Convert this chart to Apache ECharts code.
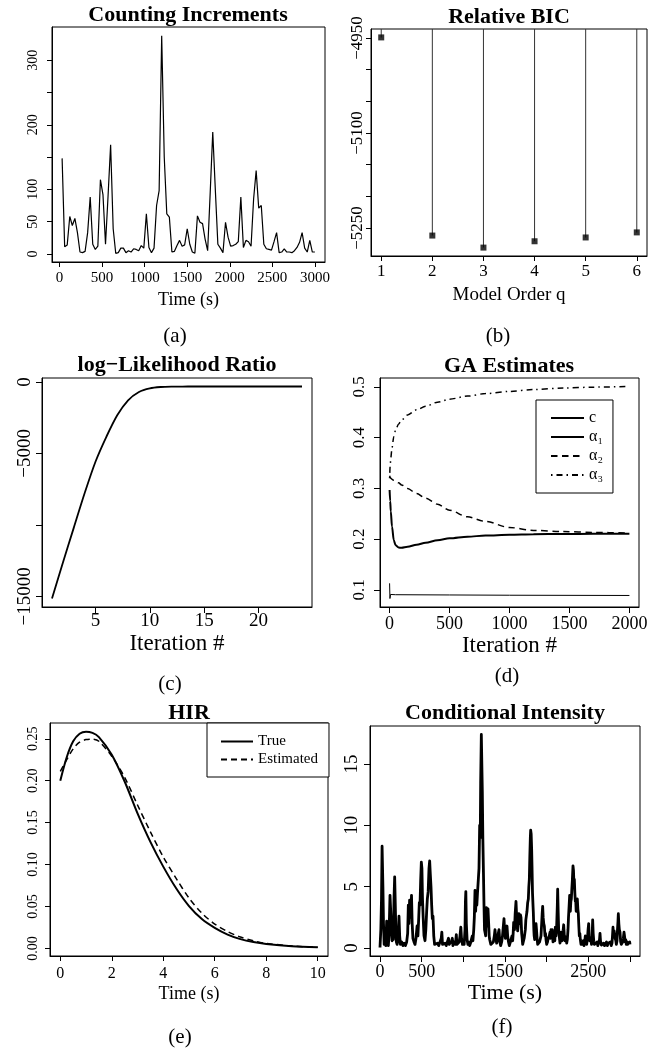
<!DOCTYPE html>
<html><head><meta charset="utf-8">
<script src="https://cdn.jsdelivr.net/npm/echarts@6/dist/echarts.min.js"></script>
<style>html,body{margin:0;padding:0;background:#fff}#c{width:667px;height:1049px}</style>
</head><body><div id="c"></div>
<script>
// ---------- (a) Counting Increments ----------
const countTime = [30,60,90,120,150,180,210,240,270,300,330,360,390,420,450,480,510,540,570,600,
630,660,690,720,750,780,810,840,870,900,930,960,990,1020,1050,1080,1110,1140,1170,1200,
1230,1260,1290,1320,1350,1380,1410,1440,1470,1500,1530,1560,1590,1620,1650,1680,1710,1740,1770,1800,
1830,1860,1890,1920,1950,1980,2010,2040,2070,2100,2130,2160,2190,2220,2250,2280,2310,2340,2370,2400,
2430,2460,2490,2520,2550,2580,2610,2640,2670,2700,2730,2760,2790,2820,2850,2880,2910,2940,2970,3000];
const countValue = [148,11,14,58,44,55,33,3,2,4,
33,88,15,7,12,115,92,15,90,169,
39,1,2,9,9,2,5,3,8,7,
5,13,9,62,10,2,9,75,98,338,
150,62,57,3,4,13,21,12,14,39,
15,3,1,59,49,47,23,5,95,189,
100,15,9,2,49,26,12,13,15,19,
88,10,21,19,12,85,129,71,75,15,
8,7,6,19,33,2,3,8,3,3,
2,5,10,18,33,9,3,21,3,3];
const countXTicks = [0,500,1000,1500,2000,2500,3000];
const countYTicks = [0,50,100,150,200,250,300];
const countYLabels = [0,50,100,200,300];

// ---------- (b) Relative BIC ----------
const bicOrder = [1,2,3,4,5,6];
const bicValue = [-4949,-5262,-5281,-5271,-5265,-5257];
const bicYTicks = [-5250,-5200,-5150,-5100,-5050,-5000,-4950];
const bicYLabels = [-5250,-5100,-4950];

// ---------- (c) log-Likelihood Ratio ----------
const llrIter = [1,2,3,4,5,6,7,8,9,10,11,12,13,14,15,16,17,18,19,20,21,22,23,24];
const llrValue = [-15154,-12651,-10209,-7790,-5581,-3837,-2326,-1279,-698,-442,-349,-322,-318,-316,-315,-315,-315,-314,-314,-314,-314,-314,-314,-314];
const llrXTicks = [5,10,15,20];
const llrYTicks = [-15000,-10000,-5000,0];
const llrYLabels = [-15000,-5000,0];

// ---------- (d) GA Estimates ----------
const gaIter   = [0,5,10,20,35,50,75,100,150,225,300,400,500,650,800,1000,1200,1450,1700,2000];
const gaAlpha1 = [0.297,0.275,0.255,0.225,0.198,0.188,0.1835,0.183,0.185,0.189,0.193,0.198,0.2016,0.205,0.207,0.2087,0.2097,0.2102,0.2106,0.2109];
const gaAlpha2 = [0.325,0.322,0.320,0.318,0.316,0.314,0.311,0.307,0.300,0.290,0.281,0.269,0.257,0.244,0.235,0.223,0.2173,0.215,0.2132,0.2122];
const gaAlpha3 = [0.320,0.345,0.360,0.380,0.402,0.415,0.427,0.435,0.445,0.455,0.462,0.470,0.476,0.482,0.487,0.4913,0.495,0.498,0.4997,0.501];
const gaCIter  = [0,3,8,50,500,1000,2000];
const gaC      = [0.113,0.083,0.091,0.0905,0.0900,0.0895,0.0890];
const gaXTicks = [0,500,1000,1500,2000];
const gaYTicks = [0.1,0.2,0.3,0.4,0.5];

// ---------- (e) HIR ----------
const hirTime = [0,0.25,0.5,0.75,1,1.25,1.5,2,2.5,3,3.5,4,4.5,5,5.5,6,6.5,7,7.5,8,9,10];
const hirTrue = [0.200,0.228,0.247,0.256,0.2585,0.257,0.252,0.231,0.199,0.161,0.127,0.0975,0.0717,0.0505,0.035,0.0245,0.0165,0.0110,0.0075,0.0052,0.0025,0.0012];
const hirEst  = [0.211,0.225,0.238,0.246,0.249,0.2495,0.247,0.229,0.204,0.171,0.139,0.109,0.0836,0.060,0.042,0.029,0.020,0.0135,0.009,0.006,0.0028,0.0013];
const hirXTicks = [0,2,4,6,8,10];
const hirYTicks = [0,0.05,0.1,0.15,0.2,0.25];

// ---------- (f) Conditional Intensity : [time (s), intensity] ----------
const intensity = [[0,0.05],[10,1.5],[18,4.0],[25,8.3],[30,8.2],[35,5.0],[42,2.0],[50,0.3],[60,1.3],[70,0.2],[80,2.2],[90,0.5],[100,0.2],[108,1.0],[120,4.3],[128,4.4],[135,2.0],[145,0.6],[150,1.8],[160,0.7],[168,4.0],[176,5.8],[182,4.0],[190,1.5],[196,0.5],[205,0.3],[215,0.6],[228,2.6],[236,1.0],[245,0.3],[260,0.5],[275,0.2],[290,0.4],[305,0.2],[320,0.5],[332,1.2],[340,3.5],[348,2.0],[355,3.9],[362,4.0],[370,2.5],[378,4.3],[386,2.0],[395,0.8],[408,0.5],[420,0.3],[432,0.8],[445,1.8],[455,1.0],[465,2.5],[472,3.7],[480,3.5],[488,5.5],[496,7.0],[503,6.5],[510,4.0],[518,2.5],[528,1.0],[540,0.6],[550,1.5],[560,3.0],[568,4.0],[578,4.6],[588,6.5],[596,7.1],[604,6.0],[612,5.0],[620,3.5],[628,2.4],[636,2.6],[645,1.0],[655,0.3],[670,0.2],[690,0.4],[705,0.2],[720,0.3],[735,0.8],[742,1.3],[750,0.3],[765,0.2],[780,0.4],[795,0.2],[810,0.3],[822,0.8],[830,0.3],[845,0.2],[860,0.6],[868,0.8],[875,0.2],[890,0.5],[905,0.3],[916,1.1],[922,0.3],[935,0.2],[950,0.5],[960,1.0],[970,1.7],[978,0.8],[990,0.3],[1000,0.5],[1010,0.3],[1020,1.5],[1025,3.8],[1030,4.6],[1036,2.0],[1045,0.7],[1055,0.3],[1065,0.5],[1076,0.2],[1090,0.5],[1100,0.8],[1108,1.0],[1115,0.6],[1125,1.5],[1132,2.5],[1140,4.7],[1148,3.0],[1155,4.6],[1162,3.5],[1170,4.5],[1180,5.6],[1188,6.5],[1196,10.0],[1203,9.0],[1208,13.5],[1216,17.4],[1222,15.0],[1228,12.7],[1234,9.0],[1240,6.7],[1248,3.5],[1254,1.5],[1260,1.3],[1268,1.0],[1276,3.3],[1283,2.0],[1290,1.8],[1296,3.2],[1304,2.0],[1310,1.0],[1316,0.7],[1330,0.3],[1348,0.2],[1360,0.5],[1372,1.0],[1380,1.5],[1390,0.8],[1400,0.4],[1412,0.8],[1420,1.2],[1428,1.5],[1438,0.5],[1448,0.2],[1460,0.5],[1470,1.0],[1480,1.8],[1488,2.4],[1495,1.5],[1505,0.8],[1515,1.5],[1524,1.8],[1532,1.0],[1542,0.5],[1552,0.2],[1565,0.5],[1576,0.8],[1584,1.0],[1592,0.6],[1598,1.2],[1604,2.1],[1614,1.5],[1622,2.8],[1632,3.8],[1640,2.5],[1646,1.8],[1652,1.4],[1660,2.0],[1666,2.8],[1672,2.9],[1680,2.0],[1686,2.7],[1692,2.5],[1700,1.2],[1706,0.8],[1712,0.3],[1722,0.4],[1730,0.8],[1736,0.7],[1744,1.5],[1750,2.3],[1756,2.6],[1764,3.0],[1772,3.7],[1780,4.0],[1786,5.0],[1792,5.6],[1798,7.5],[1804,9.0],[1808,9.6],[1814,9.3],[1820,8.0],[1824,6.7],[1830,4.5],[1836,3.5],[1840,2.9],[1846,1.5],[1850,1.0],[1856,0.7],[1864,1.3],[1872,2.0],[1878,1.5],[1885,0.8],[1892,0.3],[1905,0.2],[1915,0.5],[1924,0.5],[1932,1.0],[1940,2.0],[1946,2.8],[1952,3.4],[1958,2.5],[1965,2.0],[1972,1.8],[1980,1.0],[1986,1.2],[1992,0.7],[2000,0.3],[2010,0.5],[2018,0.8],[2024,0.7],[2032,1.0],[2040,1.3],[2046,0.8],[2052,1.5],[2060,1.0],[2068,1.5],[2076,0.5],[2085,0.8],[2092,1.2],[2098,0.6],[2104,1.7],[2112,1.0],[2120,1.8],[2128,3.5],[2132,4.8],[2138,3.0],[2144,1.5],[2152,0.9],[2160,0.4],[2168,0.8],[2176,1.3],[2184,0.6],[2190,1.0],[2197,1.4],[2204,1.9],[2212,1.0],[2218,0.6],[2224,0.5],[2232,0.9],[2240,0.4],[2248,0.7],[2256,1.5],[2262,2.5],[2270,3.5],[2276,4.3],[2284,3.0],[2290,3.8],[2296,4.0],[2302,4.8],[2308,5.5],[2316,6.7],[2322,6.3],[2328,5.0],[2332,5.6],[2338,4.5],[2344,3.8],[2348,4.0],[2354,3.0],[2360,3.5],[2368,4.0],[2374,3.2],[2380,2.8],[2384,2.1],[2392,1.0],[2398,1.2],[2404,0.7],[2412,0.3],[2420,0.5],[2432,0.3],[2440,0.6],[2448,0.2],[2456,0.5],[2464,1.0],[2470,0.5],[2480,0.3],[2490,0.8],[2497,1.5],[2504,2.0],[2510,1.0],[2518,0.6],[2524,0.5],[2530,0.8],[2538,0.3],[2546,1.0],[2552,2.3],[2558,1.2],[2566,0.5],[2572,0.3],[2585,0.2],[2595,0.4],[2604,0.5],[2614,0.2],[2625,0.3],[2634,0.7],[2640,1.2],[2646,0.6],[2656,0.25],[2670,0.2],[2684,0.4],[2695,0.2],[2706,0.3],[2718,0.5],[2728,0.2],[2740,0.4],[2752,0.3],[2765,0.5],[2775,0.2],[2784,0.4],[2790,1.0],[2796,1.7],[2802,1.0],[2810,1.4],[2816,1.5],[2822,0.8],[2830,0.6],[2836,0.3],[2844,0.6],[2850,1.5],[2856,2.2],[2860,2.8],[2866,2.0],[2872,1.5],[2880,1.3],[2888,0.5],[2896,0.3],[2904,0.25],[2912,0.5],[2920,0.8],[2928,1.3],[2934,1.0],[2942,0.5],[2948,0.7],[2955,0.3],[2964,0.5],[2972,0.3],[2980,0.2],[2990,0.4],[2996,0.5],[3000,0.3]];
const ciXTicks = [0,500,1000,1500,2000,2500,3000];
const ciXLabels = [0,500,1500,2500];
const ciYTicks = [0,5,10,15];

// ---------- helpers ----------
const FONT = '"Liberation Serif", "Times New Roman", serif';
function rng(vals){ const mn = Math.min(...vals), mx = Math.max(...vals), d = (mx - mn) * 0.04; return [mn - d, mx + d]; }
function zip(xs, ys){ return xs.map((x, i) => [x, ys[i]]); }
const minusFmt = v => String(v).replace('-', '\u2212');

function axis(o){
  const isY = o.dim === 'y';
  const a = {
    type: 'value', gridIndex: o.grid, min: o.range[0], max: o.range[1],
    axisLine: {show: true, onZero: false, lineStyle: {color: '#000', width: 1}},
    axisTick: {show: true, inside: false, length: o.tickLen || 5, customValues: o.ticks, lineStyle: {color: '#000', width: 1}},
    axisLabel: {show: true, customValues: o.labels || o.ticks, formatter: o.fmt || minusFmt,
      fontFamily: FONT, fontSize: o.labelSize, color: '#000', margin: o.margin, rotate: isY ? 90 : 0},
    splitLine: {show: false}
  };
  if (o.name) {
    a.name = o.name; a.nameLocation = 'middle'; a.nameGap = o.nameGap;
    a.nameTextStyle = {fontFamily: FONT, fontSize: o.nameSize, color: '#000'};
  }
  return a;
}
function grid(l, t, w, h){ return {left: l, top: t, width: w, height: h, show: true, borderColor: '#000', borderWidth: 1, backgroundColor: 'transparent', containLabel: false, outerBoundsMode: 'none'}; }
function txt(text, x, y, size, bold){
  return {text: text, left: x, top: y, textAlign: 'center', textVerticalAlign: 'middle', padding: 0,
    textStyle: {fontFamily: FONT, fontSize: size, fontWeight: bold ? 'bold' : 'normal', color: '#000'}};
}

const gaAll = gaAlpha1.concat(gaAlpha2, gaAlpha3, gaC);
const hirAll = hirTrue.concat(hirEst);

const chart = echarts.init(document.getElementById('c'));
chart.setOption({
  animation: false,
  backgroundColor: '#fff',
  title: [
    txt('Counting Increments', 188, 15, 22, true),
    txt('Relative BIC', 509, 17, 22, true),
    txt('log\u2212Likelihood Ratio', 177, 365, 22, true),
    txt('GA Estimates', 509, 366, 22, true),
    txt('HIR', 189, 713, 22, true),
    txt('Conditional Intensity', 505, 713, 22, true),
    txt('(a)', 175, 336, 21, false),
    txt('(b)', 498, 336, 21, false),
    txt('(c)', 170, 684, 21, false),
    txt('(d)', 507, 676, 21, false),
    txt('(e)', 180, 1037, 21, false),
    txt('(f)', 502, 1027, 21, false)
  ],
  legend: [
    {data: ['c', '\u03b1\u2081', '\u03b1\u2082', '\u03b1\u2083'], orient: 'vertical', left: 536, top: 400,
     padding: [10, 10, 10, 14], itemWidth: 33, itemHeight: 10, itemGap: 3, borderColor: '#000', borderWidth: 1,
     itemStyle: {opacity: 0, borderWidth: 0},
     backgroundColor: '#fff', textStyle: {fontFamily: FONT, fontSize: 16, color: '#000'}, selectedMode: false},
    {data: ['True', 'Estimated'], orient: 'vertical', left: 207, top: 723,
     padding: [11, 11, 10, 13], itemWidth: 32, itemHeight: 10, itemGap: 3, borderColor: '#000', borderWidth: 1,
     itemStyle: {opacity: 0, borderWidth: 0},
     backgroundColor: '#fff', textStyle: {fontFamily: FONT, fontSize: 15, color: '#000'}, selectedMode: false}
  ],
  grid: [
    grid(52, 27, 273, 235),
    grid(371, 29, 276, 227),
    grid(42, 378, 270, 229),
    grid(380, 378, 259, 229),
    grid(50, 723, 278, 233),
    grid(370, 726, 270, 230)
  ],
  xAxis: [
    axis({dim: 'x', grid: 0, range: rng(countTime), ticks: countXTicks, labelSize: 15, margin: 9, name: 'Time (s)', nameSize: 18, nameGap: 29}),
    axis({dim: 'x', grid: 1, range: rng(bicOrder), ticks: bicOrder, labelSize: 17, margin: 7, name: 'Model Order q', nameSize: 19, nameGap: 30}),
    axis({dim: 'x', grid: 2, range: rng(llrIter), ticks: llrXTicks, labelSize: 19, margin: 5, tickLen: 6, name: 'Iteration #', nameSize: 23, nameGap: 25}),
    axis({dim: 'x', grid: 3, range: rng(gaIter), ticks: gaXTicks, labelSize: 18, margin: 8, tickLen: 6, name: 'Iteration #', nameSize: 23, nameGap: 27}),
    axis({dim: 'x', grid: 4, range: rng(hirTime), ticks: hirXTicks, labelSize: 16, margin: 10, name: 'Time (s)', nameSize: 18, nameGap: 29}),
    axis({dim: 'x', grid: 5, range: rng(intensity.map(p => p[0])), ticks: ciXTicks, labels: ciXLabels, labelSize: 18, margin: 7, tickLen: 6, name: 'Time (s)', nameSize: 22, nameGap: 22})
  ],
  yAxis: [
    axis({dim: 'y', grid: 0, range: rng(countValue), ticks: countYTicks, labels: countYLabels, labelSize: 14, margin: 12}),
    axis({dim: 'y', grid: 1, range: rng(bicValue), ticks: bicYTicks, labels: bicYLabels, labelSize: 17, margin: 5}),
    axis({dim: 'y', grid: 2, range: rng(llrValue), ticks: llrYTicks, labels: llrYLabels, labelSize: 19, margin: 7, tickLen: 6}),
    axis({dim: 'y', grid: 3, range: rng(gaAll), ticks: gaYTicks, labelSize: 17, margin: 12, tickLen: 6, fmt: v => v.toFixed(1)}),
    axis({dim: 'y', grid: 4, range: rng(hirAll), ticks: hirYTicks, labelSize: 14, margin: 10, fmt: v => v.toFixed(2)}),
    axis({dim: 'y', grid: 5, range: rng(intensity.map(p => p[1])), ticks: ciYTicks, labelSize: 19, margin: 8, tickLen: 6})
  ],
  series: [
    {name: 'counts', type: 'line', xAxisIndex: 0, yAxisIndex: 0, data: zip(countTime, countValue), symbol: 'none',
     lineStyle: {color: '#000', width: 1.2}},
    {name: 'bicStem', type: 'bar', xAxisIndex: 1, yAxisIndex: 1, data: zip(bicOrder, bicValue), barWidth: 1,
     itemStyle: {color: '#333'}, clip: true},
    {name: 'bic', type: 'scatter', xAxisIndex: 1, yAxisIndex: 1, data: zip(bicOrder, bicValue), symbol: 'rect', symbolSize: 6,
     itemStyle: {color: '#000'}},
    {name: 'llr', type: 'line', xAxisIndex: 2, yAxisIndex: 2, data: zip(llrIter, llrValue), symbol: 'none', smooth: 0.3,
     lineStyle: {color: '#000', width: 1.8}},
    {name: 'c', type: 'line', xAxisIndex: 3, yAxisIndex: 3, data: zip(gaCIter, gaC), symbol: 'none',
     lineStyle: {color: '#000', width: 1}, itemStyle: {color: '#000'}},
    {name: '\u03b1\u2081', type: 'line', xAxisIndex: 3, yAxisIndex: 3, data: zip(gaIter, gaAlpha1), symbol: 'none', smooth: 0.3, smoothMonotone: 'x',
     lineStyle: {color: '#000', width: 2}, itemStyle: {color: '#000'}},
    {name: '\u03b1\u2082', type: 'line', xAxisIndex: 3, yAxisIndex: 3, data: zip(gaIter, gaAlpha2), symbol: 'none', smooth: 0.3, smoothMonotone: 'x',
     lineStyle: {color: '#000', width: 1.5, type: [6.5, 4.5]}, itemStyle: {color: '#000'}},
    {name: '\u03b1\u2083', type: 'line', xAxisIndex: 3, yAxisIndex: 3, data: zip(gaIter, gaAlpha3), symbol: 'none', smooth: 0.3, smoothMonotone: 'x',
     lineStyle: {color: '#000', width: 1.5, type: [1.5, 4, 6, 4]}, itemStyle: {color: '#000'}},
    {name: 'True', type: 'line', xAxisIndex: 4, yAxisIndex: 4, data: zip(hirTime, hirTrue), symbol: 'none', smooth: 0.3,
     lineStyle: {color: '#000', width: 2}, itemStyle: {color: '#000'}},
    {name: 'Estimated', type: 'line', xAxisIndex: 4, yAxisIndex: 4, data: zip(hirTime, hirEst), symbol: 'none', smooth: 0.3,
     lineStyle: {color: '#000', width: 1.5, type: [6, 4]}, itemStyle: {color: '#000'}},
    {name: 'intensity', type: 'line', xAxisIndex: 5, yAxisIndex: 5, data: intensity, symbol: 'none',
     lineStyle: {color: '#000', width: 2.8, join: 'round'}}
  ]
});
</script>
</body></html>
